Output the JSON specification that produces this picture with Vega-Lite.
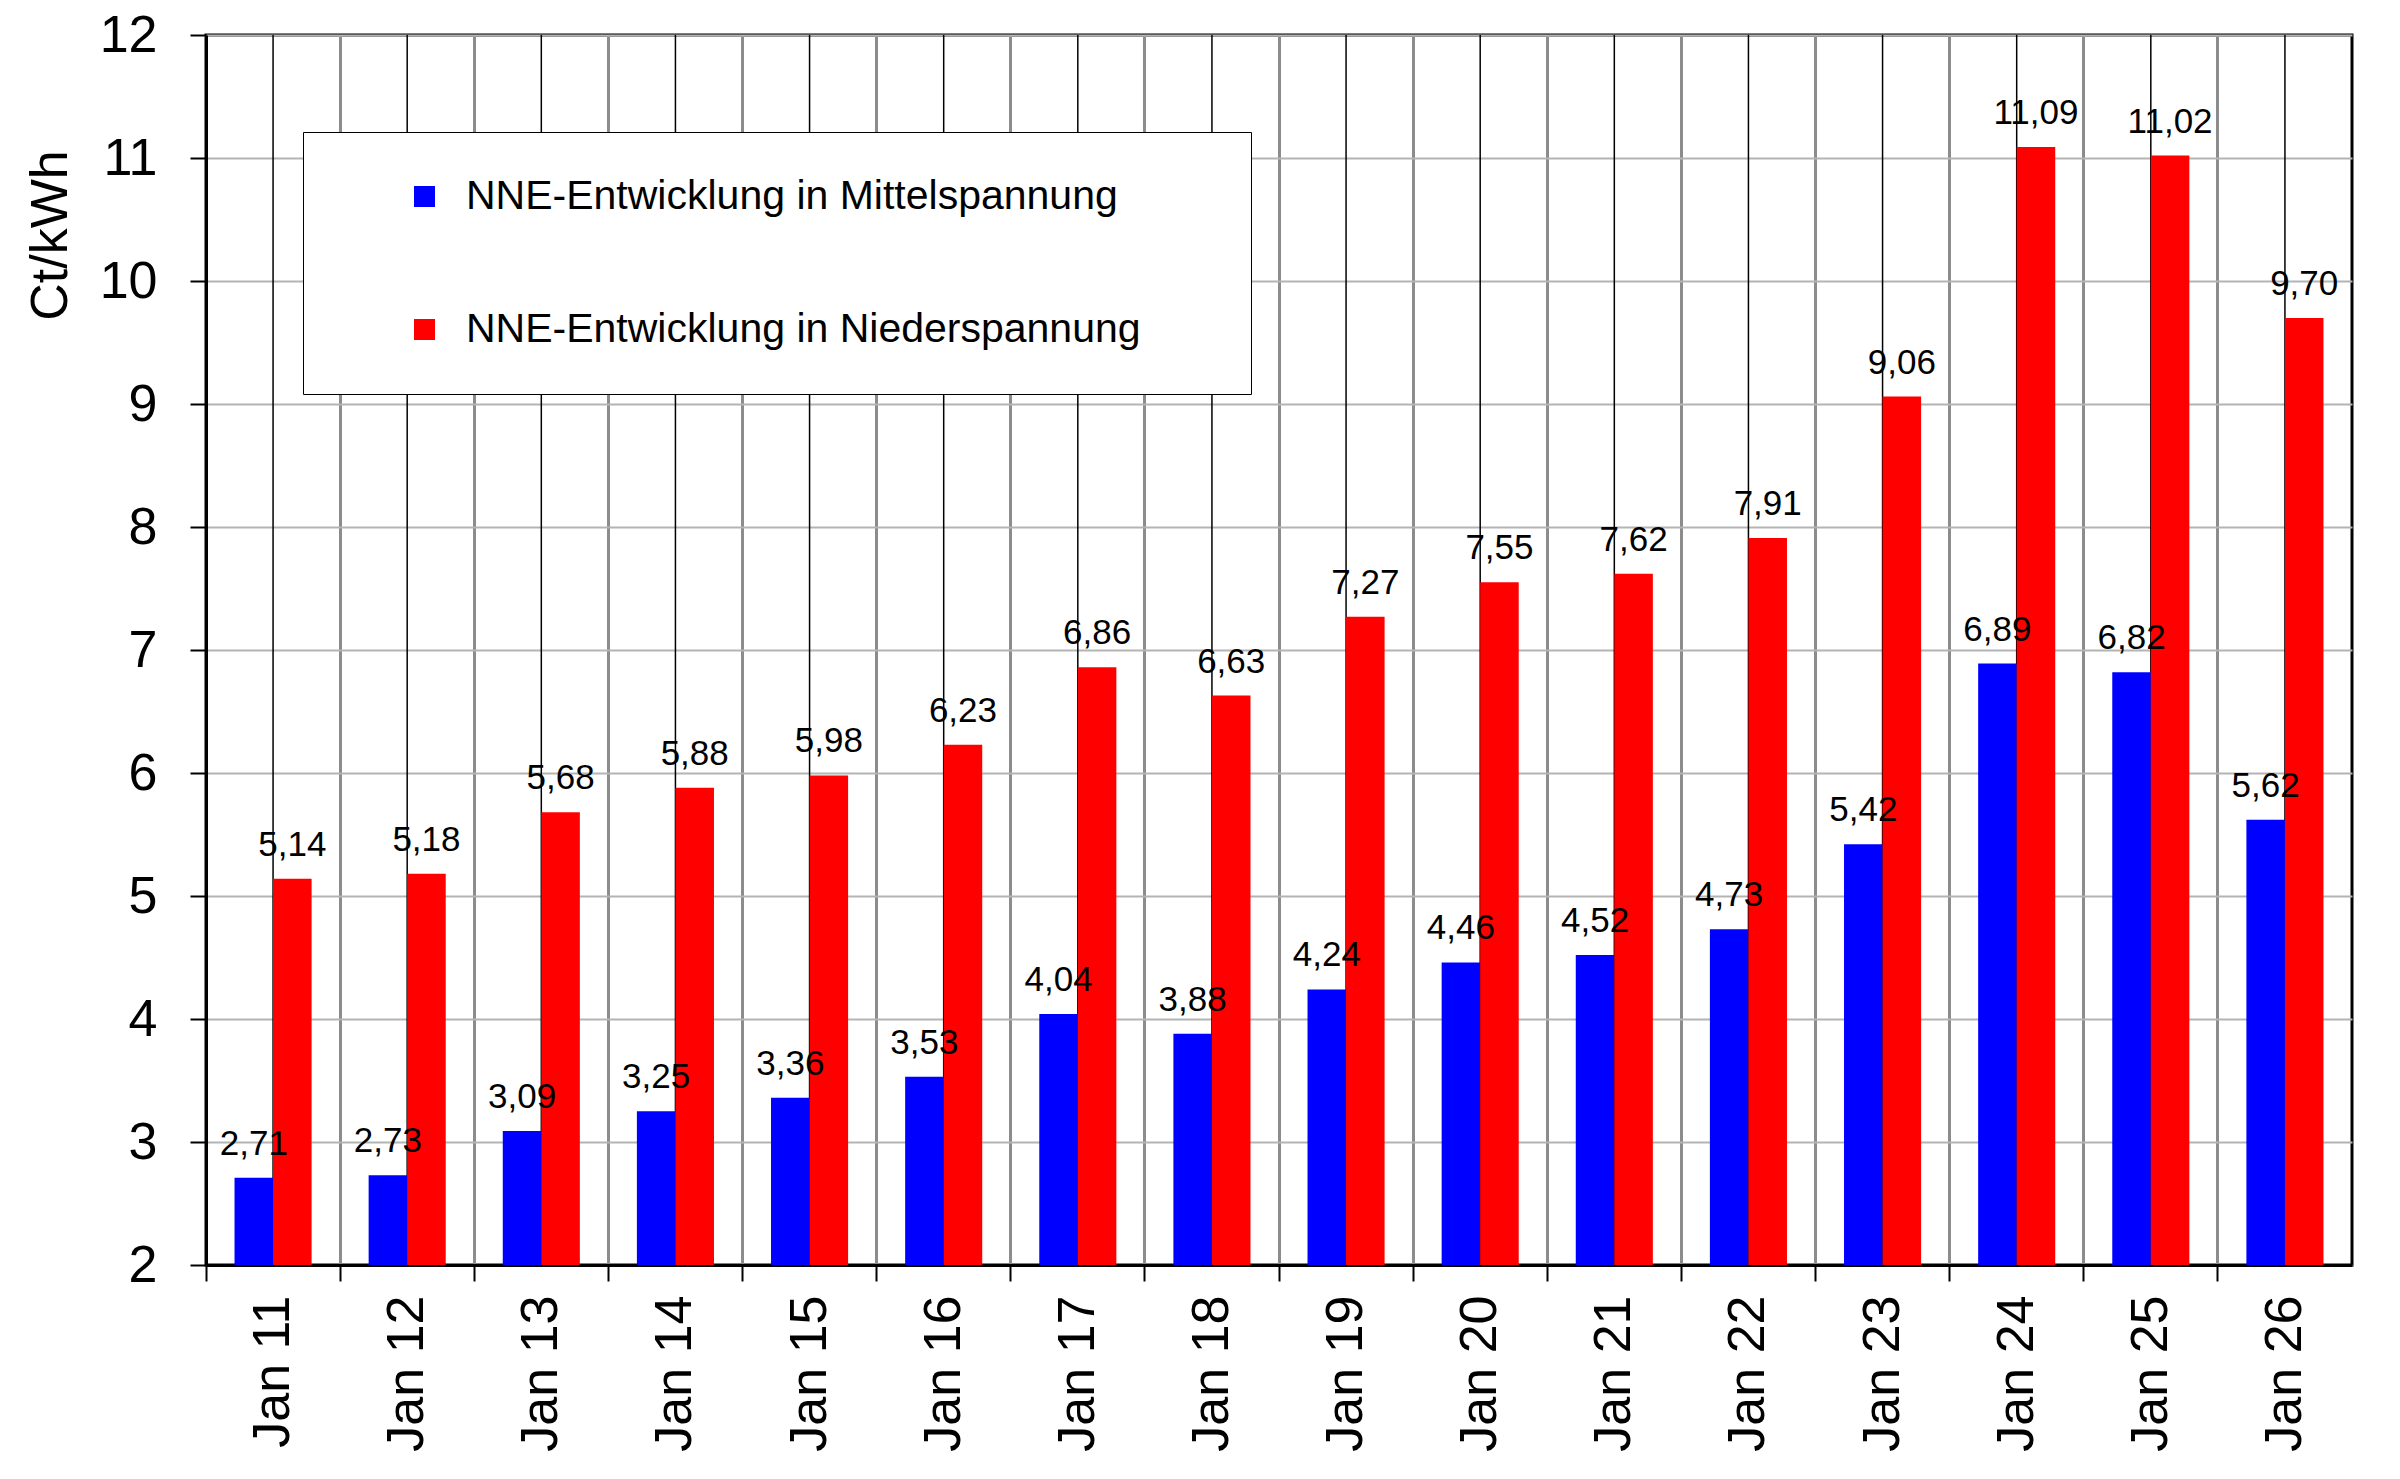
{
  "$schema": "https://vega.github.io/schema/vega-lite/v6.json",
  "width": 2146,
  "height": 1230,
  "autosize": {"type": "none"},
  "padding": {"left": 206, "top": 35, "right": 48, "bottom": 214},
  "background": "white",
  "data": {
    "values": [
      {"jahr": "Jan 11", "serie": "NNE-Entwicklung in Mittelspannung", "wert": 2.71},
      {"jahr": "Jan 11", "serie": "NNE-Entwicklung in Niederspannung", "wert": 5.14},
      {"jahr": "Jan 12", "serie": "NNE-Entwicklung in Mittelspannung", "wert": 2.73},
      {"jahr": "Jan 12", "serie": "NNE-Entwicklung in Niederspannung", "wert": 5.18},
      {"jahr": "Jan 13", "serie": "NNE-Entwicklung in Mittelspannung", "wert": 3.09},
      {"jahr": "Jan 13", "serie": "NNE-Entwicklung in Niederspannung", "wert": 5.68},
      {"jahr": "Jan 14", "serie": "NNE-Entwicklung in Mittelspannung", "wert": 3.25},
      {"jahr": "Jan 14", "serie": "NNE-Entwicklung in Niederspannung", "wert": 5.88},
      {"jahr": "Jan 15", "serie": "NNE-Entwicklung in Mittelspannung", "wert": 3.36},
      {"jahr": "Jan 15", "serie": "NNE-Entwicklung in Niederspannung", "wert": 5.98},
      {"jahr": "Jan 16", "serie": "NNE-Entwicklung in Mittelspannung", "wert": 3.53},
      {"jahr": "Jan 16", "serie": "NNE-Entwicklung in Niederspannung", "wert": 6.23},
      {"jahr": "Jan 17", "serie": "NNE-Entwicklung in Mittelspannung", "wert": 4.04},
      {"jahr": "Jan 17", "serie": "NNE-Entwicklung in Niederspannung", "wert": 6.86},
      {"jahr": "Jan 18", "serie": "NNE-Entwicklung in Mittelspannung", "wert": 3.88},
      {"jahr": "Jan 18", "serie": "NNE-Entwicklung in Niederspannung", "wert": 6.63},
      {"jahr": "Jan 19", "serie": "NNE-Entwicklung in Mittelspannung", "wert": 4.24},
      {"jahr": "Jan 19", "serie": "NNE-Entwicklung in Niederspannung", "wert": 7.27},
      {"jahr": "Jan 20", "serie": "NNE-Entwicklung in Mittelspannung", "wert": 4.46},
      {"jahr": "Jan 20", "serie": "NNE-Entwicklung in Niederspannung", "wert": 7.55},
      {"jahr": "Jan 21", "serie": "NNE-Entwicklung in Mittelspannung", "wert": 4.52},
      {"jahr": "Jan 21", "serie": "NNE-Entwicklung in Niederspannung", "wert": 7.62},
      {"jahr": "Jan 22", "serie": "NNE-Entwicklung in Mittelspannung", "wert": 4.73},
      {"jahr": "Jan 22", "serie": "NNE-Entwicklung in Niederspannung", "wert": 7.91},
      {"jahr": "Jan 23", "serie": "NNE-Entwicklung in Mittelspannung", "wert": 5.42},
      {"jahr": "Jan 23", "serie": "NNE-Entwicklung in Niederspannung", "wert": 9.06},
      {"jahr": "Jan 24", "serie": "NNE-Entwicklung in Mittelspannung", "wert": 6.89},
      {"jahr": "Jan 24", "serie": "NNE-Entwicklung in Niederspannung", "wert": 11.09},
      {"jahr": "Jan 25", "serie": "NNE-Entwicklung in Mittelspannung", "wert": 6.82},
      {"jahr": "Jan 25", "serie": "NNE-Entwicklung in Niederspannung", "wert": 11.02},
      {"jahr": "Jan 26", "serie": "NNE-Entwicklung in Mittelspannung", "wert": 5.62},
      {"jahr": "Jan 26", "serie": "NNE-Entwicklung in Niederspannung", "wert": 9.70}
    ]
  },
  "encoding": {
    "x": {
      "field": "jahr",
      "type": "nominal",
      "sort": null,
      "scale": {"paddingInner": 0, "paddingOuter": 0},
      "axis": {
        "title": null,
        "bandPosition": 0,
        "grid": true,
        "gridColor": "#8c8c8c",
        "gridWidth": 3,
        "tickSize": 16,
        "tickWidth": 2,
        "labelAngle": -90,
        "labelAlign": "right",
        "labelBaseline": "middle",
        "labelFontSize": 52,
        "labelPadding": 14,
        "labelOverlap": false
      }
    }
  },
  "layer": [
    {
      "transform": [{"filter": "datum.serie == 'NNE-Entwicklung in Mittelspannung'"}],
      "mark": {"type": "rule", "color": "black", "strokeWidth": 1.5},
      "encoding": {
        "y": {"datum": 2, "type": "quantitative"},
        "y2": {"datum": 12}
      }
    },
    {
      "mark": {"type": "bar"},
      "encoding": {
        "xOffset": {
          "field": "serie",
          "scale": {"paddingInner": 0, "paddingOuter": 0.74}
        },
        "y": {
          "field": "wert",
          "type": "quantitative",
          "scale": {"domain": [2, 12], "nice": false, "zero": false},
          "axis": {
            "title": "Ct/kWh",
            "titleFontSize": 52,
            "titleFontWeight": "normal",
            "titleY": 200,
            "titlePadding": 22,
            "values": [2, 2.5, 3, 3.5, 4, 4.5, 5, 5.5, 6, 6.5, 7, 7.5, 8, 8.5, 9, 9.5, 10, 10.5, 11, 11.5, 12],
            "format": "d",
            "labelExpr": "datum.value % 1 == 0 ? datum.label : ''",
            "labelFontSize": 52,
            "labelPadding": 33,
            "labelOverlap": false,
            "tickSize": 16,
            "tickWidth": 2,
            "tickOpacity": {"condition": {"test": "datum.value % 1 != 0", "value": 0}, "value": 1},
            "grid": true,
            "gridWidth": 2,
            "gridColor": {"condition": {"test": "datum.value % 1 != 0", "value": "#d4d4d4"}, "value": "#b4b4b4"},
            "gridDash": {"condition": {"test": "datum.value % 1 != 0", "value": [3, 3]}, "value": []}
          }
        },
        "y2": {"datum": 2},
        "color": {
          "field": "serie",
          "type": "nominal",
          "scale": {
            "domain": ["NNE-Entwicklung in Mittelspannung", "NNE-Entwicklung in Niederspannung"],
            "range": ["#0000ff", "#ff0000"]
          },
          "legend": {
            "orient": "none",
            "legendX": 97,
            "legendY": 97,
            "title": "\u00a0",
            "titleOrient": "right",
            "titlePadding": 66,
            "fillColor": "white",
            "strokeColor": "black",
            "padding": 44,
            "symbolType": "square",
            "symbolSize": 441,
            "symbolStrokeWidth": 0,
            "symbolOffset": 57,
            "labelOffset": 21,
            "labelFontSize": 41,
            "labelColor": "black",
            "labelLimit": 1200,
            "rowPadding": 91
          }
        }
      }
    },
    {
      "mark": {"type": "text", "baseline": "bottom", "dy": -16, "fontSize": 35, "color": "black"},
      "encoding": {
        "xOffset": {"field": "serie"},
        "y": {"field": "wert", "type": "quantitative"},
        "text": {"field": "wert", "type": "quantitative", "format": ".2f"}
      }
    }
  ],
  "config": {
    "font": "Liberation Sans",
    "locale": {"number": {"decimal": ",", "thousands": ".", "grouping": [3], "currency": ["", " €"]}},
    "view": {"stroke": "black", "strokeWidth": 3},
    "axis": {
      "domainColor": "black",
      "domainWidth": 3,
      "tickColor": "black",
      "labelColor": "black",
      "titleColor": "black",
      "labelFont": "Liberation Sans",
      "titleFont": "Liberation Sans"
    },
    "legend": {"labelFont": "Liberation Sans"}
  }
}
